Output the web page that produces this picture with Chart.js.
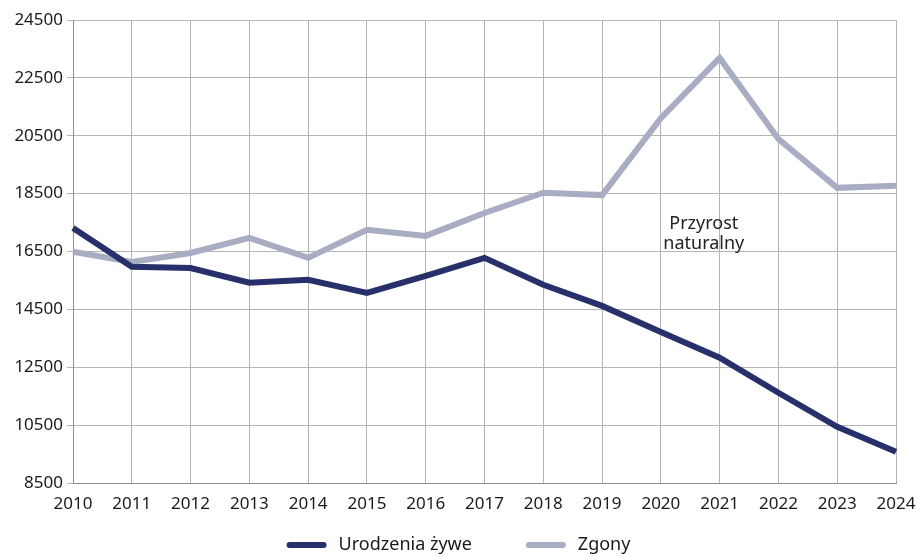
<!DOCTYPE html>
<html>
<head>
<meta charset="utf-8">
<script src="https://cdn.jsdelivr.net/npm/chart.js@4"></script>
<style>
  html, body { margin: 0; padding: 0; background: #fff; }
  .chart { width: 917px; height: 557px; }
</style>
</head>
<body>
<div class="chart">
  <canvas id="przyrost" width="917" height="557"></canvas>
</div>
<script>
const years = ['2010', '2011', '2012', '2013', '2014', '2015', '2016', '2017', '2018', '2019', '2020', '2021', '2022', '2023', '2024'];
const urodzenia = [17310, 15970, 15930, 15420, 15520, 15070, 15660, 16280, 15350, 14620, 13720, 12830, 11620, 10440, 9580];
const zgony = [16490, 16140, 16450, 16970, 16280, 17250, 17040, 17830, 18530, 18450, 21110, 23190, 20390, 18700, 18770];
const yTicks = [8500, 10500, 12500, 14500, 16500, 18500, 20500, 22500, 24500];
const noteLines = ['Przyrost', 'naturalny'];

const FONT = 'Noto Sans, sans-serif';

// podpis "Przyrost naturalny" pomiędzy liniami
const notePlugin = {
  id: 'note',
  afterDatasetsDraw(chart) {
    const { ctx, scales } = chart;
    const x = scales.x.getPixelForValue(10.73);
    const y = scales.y.getPixelForValue(17105);
    ctx.save();
    ctx.font = '18px ' + FONT;
    ctx.fillStyle = '#222';
    ctx.textAlign = 'center';
    ctx.textBaseline = 'middle';
    ctx.fillText(noteLines[0], x, y - 10);
    ctx.fillText(noteLines[1], x, y + 10);
    ctx.restore();
  }
};

// legenda pod wykresem: kreska + nazwa serii, wyśrodkowana
const legendPlugin = {
  id: 'lineLegend',
  afterDraw(chart) {
    const { ctx, width } = chart;
    const sets = chart.data.datasets;
    const iconW = 40, iconH = 6, gap = 12, between = 54, cy = 545;
    ctx.save();
    ctx.font = '18px ' + FONT;
    ctx.textBaseline = 'middle';
    const widths = sets.map(ds => iconW + gap + ctx.measureText(ds.label).width);
    const total = widths.reduce((a, b) => a + b, 0) + between * (sets.length - 1);
    let x = (width - total) / 2;
    sets.forEach((ds, i) => {
      ctx.fillStyle = ds.borderColor;
      ctx.beginPath();
      ctx.roundRect(x, cy - iconH / 2, iconW, iconH, iconH / 2);
      ctx.fill();
      ctx.fillStyle = '#1a1a1a';
      ctx.fillText(ds.label, x + iconW + gap, cy);
      x += widths[i] + between;
    });
    ctx.restore();
  }
};

new Chart(document.getElementById('przyrost').getContext('2d'), {
  type: 'line',
  data: {
    labels: years,
    datasets: [
      {
        label: 'Urodzenia żywe',
        data: urodzenia,
        borderColor: '#27306a',
        backgroundColor: '#27306a',
        borderWidth: 6,
        pointRadius: 0,
        tension: 0,
      },
      {
        label: 'Zgony',
        data: zgony,
        borderColor: '#a8adc3',
        backgroundColor: '#a8adc3',
        borderWidth: 6,
        pointRadius: 0,
        tension: 0,
      }
    ]
  },
  options: {
    responsive: false,
    animation: false,
    layout: { padding: { top: 20, right: 21, left: 0, bottom: 46 } },
    scales: {
      x: {
        offset: false,
        afterFit(axis) { axis.height = 28; axis.paddingLeft = 0; axis.paddingRight = 0; },
        grid: { color: '#b4b4b4', drawTicks: false },
        border: { color: '#909090' },
        ticks: { color: '#1a1a1a', font: { size: 17, family: FONT }, padding: 11, maxRotation: 0, autoSkip: false },
      },
      y: {
        min: 8500,
        max: 24500,
        afterBuildTicks(axis) { axis.ticks = yTicks.map(v => ({ value: v })); },
        afterFit(axis) { axis.width = 73; },
        grid: { color: '#b4b4b4', tickLength: 6 },
        border: { color: '#909090' },
        ticks: { color: '#1a1a1a', font: { size: 17, family: FONT }, padding: 4, callback: v => String(v) },
      }
    },
    plugins: {
      legend: { display: false },
      tooltip: { enabled: false },
      title: { display: false }
    }
  },
  plugins: [notePlugin, legendPlugin]
});
</script>
</body>
</html>
